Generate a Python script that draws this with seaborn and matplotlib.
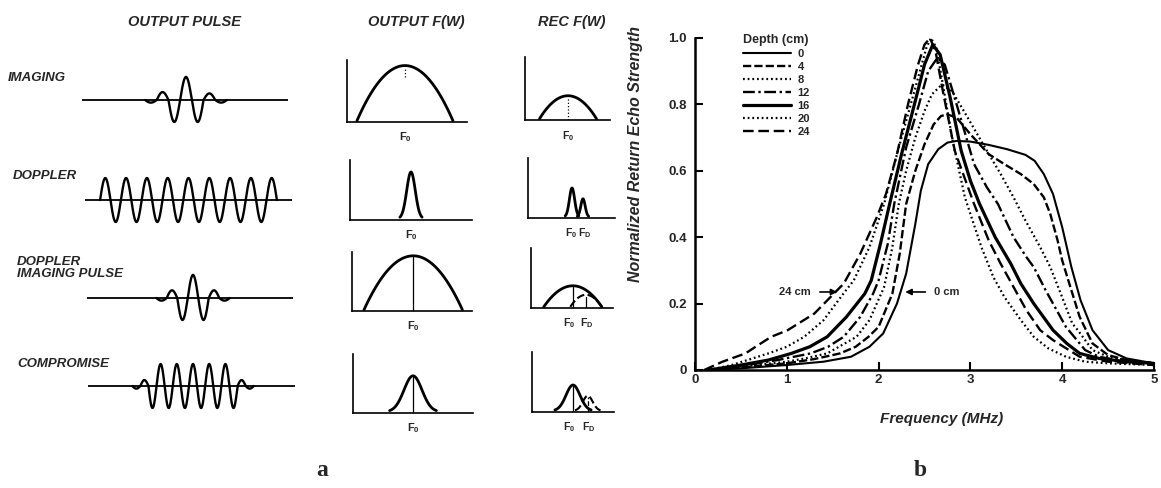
import numpy as np
import pandas as pd
import matplotlib
matplotlib.use("Agg")
import matplotlib.pyplot as plt
from matplotlib.lines import Line2D
import seaborn as sns

W, H = 1161, 488

# ---------------- panel b: echo spectra vs depth ----------------
depths = ["0", "4", "8", "12", "16", "20", "24"]

freq_0 = [0.15, 0.5, 1.0, 1.4, 1.7, 1.9, 2.05, 2.2, 2.3, 2.4, 2.46, 2.54, 2.65, 2.75, 2.85, 3.0, 3.2, 3.4,
          3.6, 3.7, 3.8, 3.9, 4.0, 4.1, 4.2, 4.33, 4.5, 4.7, 5.0]
echo_0 = [0.0, 0.005, 0.015, 0.025, 0.04, 0.07, 0.11, 0.2, 0.29, 0.44, 0.54, 0.62, 0.665, 0.685, 0.69, 0.688,
          0.678, 0.665, 0.648, 0.63, 0.59, 0.53, 0.43, 0.31, 0.21, 0.12, 0.06, 0.035, 0.02]

freq_4 = [0.15, 0.5, 1.0, 1.3, 1.58, 1.75, 1.89, 2.0, 2.15, 2.23, 2.3, 2.4, 2.5, 2.6, 2.68, 2.75, 2.85, 3.0,
          3.2, 3.37, 3.55, 3.69, 3.8, 3.87, 3.95, 4.0, 4.1, 4.19, 4.33, 4.5, 4.7, 5.0]
echo_4 = [0.0, 0.008, 0.02, 0.033, 0.05, 0.07, 0.1, 0.13, 0.23, 0.35, 0.5, 0.6, 0.68, 0.74, 0.765, 0.77, 0.76,
          0.71, 0.65, 0.62, 0.59, 0.56, 0.52, 0.47, 0.39, 0.33, 0.24, 0.16, 0.08, 0.045, 0.03, 0.02]

freq_8 = [0.15, 0.5, 1.0, 1.2, 1.44, 1.6, 1.76, 1.9, 2.06, 2.15, 2.22, 2.3, 2.4, 2.5, 2.58, 2.69, 2.8, 2.95,
          3.18, 3.33, 3.47, 3.6, 3.76, 3.87, 3.97, 4.11, 4.17, 4.33, 4.5, 4.7, 5.0]
echo_8 = [0.0, 0.01, 0.025, 0.035, 0.05, 0.075, 0.1, 0.15, 0.25, 0.37, 0.5, 0.6, 0.7, 0.78, 0.83, 0.86, 0.84,
          0.77, 0.66, 0.59, 0.52, 0.45, 0.37, 0.31, 0.24, 0.14, 0.12, 0.06, 0.04, 0.03, 0.02]

freq_12 = [0.15, 0.5, 0.9, 1.26, 1.45, 1.62, 1.8, 1.94, 2.0, 2.1, 2.17, 2.3, 2.44, 2.54, 2.64, 2.72, 2.85,
           3.04, 3.18, 3.3, 3.47, 3.61, 3.69, 3.82, 4.04, 4.25, 4.4, 4.6, 5.0]
echo_12 = [0.0, 0.012, 0.03, 0.05, 0.07, 0.1, 0.16, 0.23, 0.27, 0.38, 0.5, 0.67, 0.8, 0.9, 0.94, 0.92, 0.8,
           0.62, 0.55, 0.5, 0.4, 0.34, 0.31, 0.24, 0.13, 0.06, 0.04, 0.03, 0.02]

freq_16 = [0.15, 0.5, 0.8, 1.05, 1.25, 1.44, 1.65, 1.85, 1.92, 2.02, 2.12, 2.25, 2.39, 2.5, 2.59, 2.67, 2.78,
           2.9, 3.0, 3.1, 3.27, 3.44, 3.55, 3.69, 3.9, 4.05, 4.19, 4.4, 4.7, 5.0]
echo_16 = [0.0, 0.015, 0.03, 0.05, 0.07, 0.1, 0.16, 0.23, 0.27, 0.38, 0.5, 0.65, 0.8, 0.92, 0.98, 0.95, 0.82,
           0.66, 0.57, 0.5, 0.4, 0.32, 0.26, 0.2, 0.12, 0.08, 0.05, 0.035, 0.025, 0.02]

freq_20 = [0.15, 0.4, 0.8, 1.0, 1.19, 1.4, 1.63, 1.73, 1.9, 2.06, 2.2, 2.35, 2.45, 2.52, 2.57, 2.63, 2.7, 2.8,
           2.94, 3.12, 3.25, 3.37, 3.55, 3.69, 3.85, 4.04, 4.25, 4.5, 5.0]
echo_20 = [0.0, 0.015, 0.05, 0.07, 0.1, 0.15, 0.235, 0.27, 0.37, 0.5, 0.65, 0.8, 0.9, 0.97, 1.0, 0.97, 0.86,
           0.7, 0.52, 0.37, 0.28, 0.22, 0.15, 0.1, 0.065, 0.04, 0.025, 0.02, 0.015]

freq_24 = [0.1, 0.3, 0.55, 0.66, 0.83, 1.01, 1.3, 1.53, 1.62, 1.8, 1.98, 2.08, 2.2, 2.32, 2.43, 2.5, 2.56,
           2.62, 2.7, 2.83, 3.04, 3.2, 3.33, 3.47, 3.61, 3.76, 3.9, 4.19, 4.5, 5.0]
echo_24 = [0.0, 0.025, 0.05, 0.07, 0.1, 0.12, 0.17, 0.235, 0.26, 0.35, 0.46, 0.53, 0.65, 0.8, 0.92, 0.98, 1.0,
           0.96, 0.84, 0.66, 0.5, 0.39, 0.32, 0.25, 0.18, 0.12, 0.09, 0.04, 0.025, 0.015]

freq_ticks = [0, 1, 2, 3, 4, 5]
echo_ticks = [0, 0.2, 0.4, 0.6, 0.8, 1.0]
echo_tick_labels = ["0", "0.2", "0.4", "0.6", "0.8", "1.0"]

# ---------------- panel a: schematic pulses and spectra ----------------
row_names = ["IMAGING", "DOPPLER", "DOPPLER\nIMAGING PULSE", "COMPROMISE"]
col_names = ["OUTPUT PULSE", "OUTPUT F(W)", "REC F(W)"]

# half-cycle amplitudes of each transmitted pulse
imaging_lobes = [-0.12, 0.36, -1.0, 1.05, -1.0, 0.3, -0.12]
doppler_lobes = [1.0, -1.0] * 8 + [1.0]
dopp_img_lobes = [-0.12, 0.35, -1.0, 1.05, -1.0, 0.35, -0.12]
compromise_lobes = [-0.12, 0.27] + [-1.0, 1.0] * 5 + [-1.0, 0.27, -0.12]

# spectra: (shape, centre, height, width, linestyle)
out_spectra = [
    [("parab", 0.483, 0.89, 0.40, "-")],
    [("gauss", 0.50, 0.78, 0.035, "-")],
    [("parab", 0.51, 0.915, 0.41, "-")],
    [("gauss", 0.50, 0.61, 0.075, "-")],
]
rec_spectra = [
    [("parab", 0.506, 0.365, 0.335, "-")],
    [("gauss", 0.506, 0.48, 0.03, "-"), ("gauss", 0.632, 0.30, 0.025, "-")],
    [("parab", 0.51, 0.35, 0.354, "-"), ("parab", 0.67, 0.20, 0.19, "--")],
    [("gauss", 0.50, 0.43, 0.085, "-"), ("gauss", 0.68, 0.25, 0.06, "--")],
]
# vertical markers at F0 / FD: (x, y0, y1, linestyle)
out_marks = [[(0.483, 0.72, 0.89, ":")], [], [(0.51, 0.0, 0.915, "-")], [(0.50, 0.0, 0.61, "-")]]
rec_marks = [[(0.506, 0.0, 0.365, ":")], [],
             [(0.51, 0.0, 0.35, "-"), (0.67, 0.0, 0.19, "-")],
             [(0.50, 0.0, 0.43, "-"), (0.68, 0.0, 0.25, "--")]]
out_freq_labels = [[(0.483, "F_0")], [(0.50, "F_0")], [(0.51, "F_0")], [(0.50, "F_0")]]
rec_freq_labels = [[(0.506, "F_0")], [(0.50, "F_0"), (0.65, "F_D")],
                   [(0.47, "F_0"), (0.68, "F_D")], [(0.45, "F_0"), (0.69, "F_D")]]

# ---------------- style ----------------
sns.set_style("ticks")
plt.rcParams["font.family"] = ["Liberation Sans", "DejaVu Sans"]
plt.rcParams["mathtext.fontset"] = "custom"
plt.rcParams["mathtext.rm"] = "Liberation Sans:bold"
plt.rcParams["mathtext.it"] = "Liberation Sans:bold"
plt.rcParams["mathtext.bf"] = "Liberation Sans:bold"

fig = plt.figure(figsize=(W / 100, H / 100), dpi=100)


def px_axes(left, top, right, bottom):
    return fig.add_axes([left / W, 1 - bottom / H, (right - left) / W, (bottom - top) / H])


def px_text(x, y, s, **kw):
    fig.text(x / W, 1 - y / H, s, **kw)


head_kw = dict(fontsize=10.5, fontweight="bold", fontstyle="italic", va="center", ha="left")
px_text(128, 22, col_names[0], **head_kw)
px_text(368, 22, col_names[1], **head_kw)
px_text(538, 22, col_names[2], **head_kw)

row_kw = dict(fontsize=9.5, fontweight="bold", fontstyle="italic", va="center", ha="left")
px_text(8, 78, row_names[0], **row_kw)
px_text(13, 176, row_names[1], **row_kw)
px_text(17, 268, row_names[2], linespacing=0.95, **row_kw)
px_text(17, 364, row_names[3], **row_kw)

# pulses: baseline left, baseline right, baseline y, pulse centre, half-cycle width (px)
pulse_layout = [(82, 288, 100, 186, 11.7), (85, 292, 200, 188.5, 10.4),
                (87, 293, 298, 193, 10.5), (88, 295, 386, 193, 8.1)]
amp_px = 22
for lobes, (x0, x1, yb, xc, half) in zip([imaging_lobes, doppler_lobes, dopp_img_lobes, compromise_lobes],
                                         pulse_layout):
    ax = px_axes(x0, yb - 32, x1, yb + 32)
    ax.set_xlim(x0 - xc, x1 - xc)
    ax.set_ylim(-32 / amp_px, 32 / amp_px)
    ax.axis("off")
    ax.axhline(0, color="black", lw=1.3)
    n = len(lobes)
    t = np.linspace(0, 1, 30)
    xs = np.concatenate([(k - n / 2 + t) * half for k in range(n)])
    ys = np.concatenate([a * np.sin(np.pi * t) for a in lobes])
    ax.plot(xs, ys, color="black", lw=1.7)

out_rects = [(347, 60, 467, 122), (350, 160, 472, 220), (352, 252, 472, 311), (353, 354, 473, 413)]
rec_rects = [(525, 57, 610, 120), (528, 158, 615, 218), (531, 248, 613, 308), (532, 352, 614, 412)]


def draw_spectrum(rect, comps, marks, labels, fs):
    ax = px_axes(*rect)
    ax.set_xlim(0, 1)
    ax.set_ylim(0, 1)
    ax.set_xticks([])
    ax.set_yticks([])
    for s in ["top", "right"]:
        ax.spines[s].set_visible(False)
    for s in ["left", "bottom"]:
        ax.spines[s].set_linewidth(1.2)
        ax.spines[s].set_color("black")
    for shape, c, h, w, ls in comps:
        if shape == "parab":
            x = np.linspace(c - w, c + w, 80)
            y = h * (1 - ((x - c) / w) ** 2) + 0.02
        else:
            x = np.linspace(c - 2.6 * w, c + 2.6 * w, 80)
            y = h * np.exp(-0.5 * ((x - c) / w) ** 2) + 0.02
        ax.plot(x, y, color="black", lw=2.0 if ls == "-" else 1.5, linestyle=ls, clip_on=False)
    for xm, y0, y1, ls in marks:
        ax.plot([xm, xm], [y0, y1], color="black", lw=0.9, linestyle=ls)
    for xl, s in labels:
        ax.text(xl, -0.25, "$%s$" % s, ha="center", va="center", fontsize=fs, transform=ax.transAxes)


for i in range(4):
    draw_spectrum(out_rects[i], out_spectra[i], out_marks[i], out_freq_labels[i], 8)
    draw_spectrum(rec_rects[i], rec_spectra[i], rec_marks[i], rec_freq_labels[i], 7.5)

# ---------------- panel b ----------------
curves = pd.concat([
    pd.DataFrame({"freq": f, "echo": e, "depth": d})
    for d, f, e in zip(depths,
                       [freq_0, freq_4, freq_8, freq_12, freq_16, freq_20, freq_24],
                       [echo_0, echo_4, echo_8, echo_12, echo_16, echo_20, echo_24])
])

line_styles = {
    "0": ("-", 1.5),
    "4": ((0, (3.5, 1.3)), 1.7),
    "8": ((0, (0.8, 1.3)), 1.6),
    "12": ((0, (5, 1.5, 1, 1.5)), 1.7),
    "16": ("-", 2.3),
    "20": ((0, (0.8, 1.3)), 1.6),
    "24": ((0, (4.5, 2)), 1.7),
}

axb = px_axes(695, 38, 1154, 370)
for d in depths:
    ls, lw = line_styles[d]
    sub = curves[curves["depth"] == d]
    sns.lineplot(data=sub, x="freq", y="echo", ax=axb, color="black", linestyle=ls, lw=lw,
                 sort=False, estimator=None)

axb.set_xlim(0, 5)
axb.set_ylim(0, 1.0)
sns.despine(ax=axb)
axb.spines["left"].set_linewidth(1.8)
axb.spines["bottom"].set_linewidth(1.8)
axb.spines["left"].set_color("black")
axb.spines["bottom"].set_color("black")
axb.set_xticks(freq_ticks)
axb.set_xticklabels([str(v) for v in freq_ticks])
axb.set_yticks(echo_ticks)
axb.set_yticklabels(echo_tick_labels)
axb.tick_params(direction="in", length=6, width=1.5, color="black", labelsize=9.5, pad=4)
axb.tick_params(axis="y", pad=6)
axb.tick_params(axis="x", pad=3)
for lab in axb.get_xticklabels() + axb.get_yticklabels():
    lab.set_fontweight("bold")

axb.set_xlabel("Frequency (MHz)", fontsize=11, fontweight="bold", fontstyle="italic")
axb.set_ylabel("Normalized Return Echo Strength", fontsize=11.5, fontweight="bold", fontstyle="italic")
axb.xaxis.set_label_coords(0.538, -0.127)
axb.yaxis.set_label_coords(-0.113, 0.65)

handles = [Line2D([], [], color="black", linestyle=line_styles[d][0], lw=line_styles[d][1]) for d in depths]
leg = axb.legend(handles, depths, title="Depth (cm)", loc="upper left", bbox_to_anchor=(0.093, 1.03),
                 frameon=False, borderpad=0, handlelength=4.3, handletextpad=0.6, labelspacing=0.28,
                 fontsize=8, title_fontproperties={"weight": "bold", "size": 9}, alignment="left")
for t in leg.get_texts():
    t.set_fontweight("bold")

axb.annotate("", xy=(1.58, 0.235), xytext=(1.33, 0.235),
             arrowprops=dict(arrowstyle="-|>", color="black", lw=1.2, mutation_scale=9))
axb.text(1.26, 0.235, "24 cm", ha="right", va="center", fontsize=8, fontweight="bold")
axb.annotate("", xy=(2.26, 0.235), xytext=(2.54, 0.235),
             arrowprops=dict(arrowstyle="-|>", color="black", lw=1.2, mutation_scale=9))
axb.text(2.6, 0.235, "0 cm", ha="left", va="center", fontsize=8, fontweight="bold")

# panel letters
px_text(322, 470, "a", fontsize=17, fontweight="bold", family="Liberation Serif", ha="center", va="center")
px_text(920, 470, "b", fontsize=17, fontweight="bold", family="Liberation Serif", ha="center", va="center")

fig.savefig("out.png", dpi=100, facecolor="white")
